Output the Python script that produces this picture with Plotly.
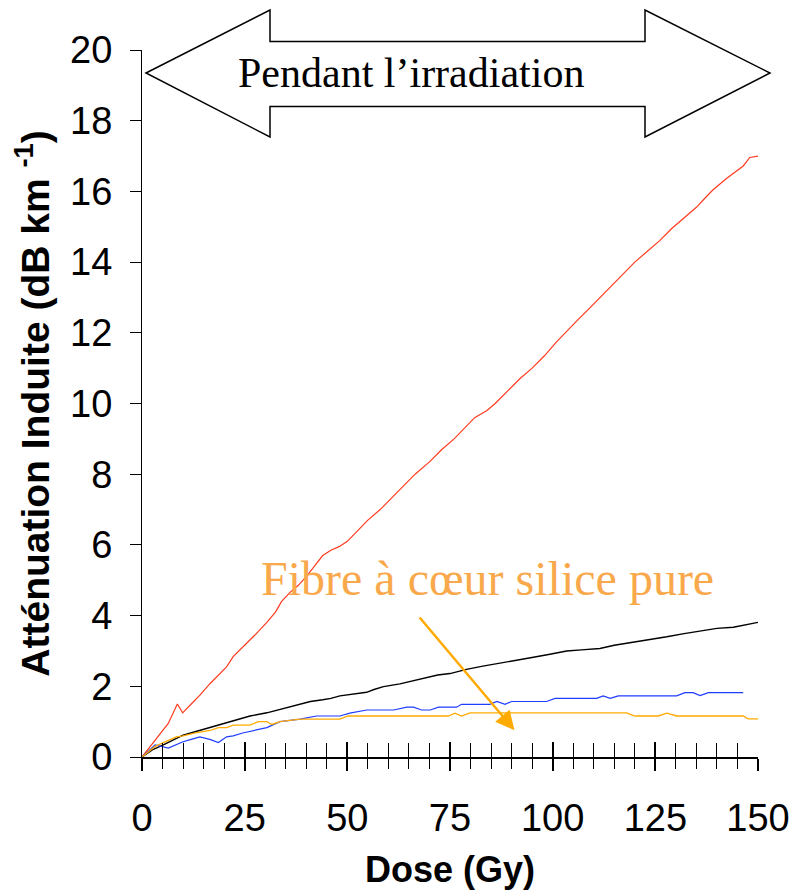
import plotly.graph_objects as go

# Induced attenuation (dB/km) versus dose (Gy) during irradiation, four fibres
red_dose = [0, 2, 4, 6.4, 8.6, 9.9, 12, 14.1, 16.6, 18.5, 20.6, 22.2, 25, 27.5, 30.4, 32.5,
            34, 36, 38, 40, 42, 44, 46, 48, 50, 52, 55, 58, 61, 64, 66.5, 70, 73, 76, 79,
            81, 84, 86, 89, 92, 95, 98, 101, 103, 106, 109, 112, 115, 118, 120, 123, 126,
            129, 132, 135, 137, 139, 142.4, 144.5, 146.4, 148, 150]
red_att = [0, 0.3, 0.6, 0.95, 1.5, 1.25, 1.5, 1.75, 2.08, 2.3, 2.55, 2.84, 3.15, 3.45, 3.81,
           4.1, 4.4, 4.65, 4.85, 5.1, 5.4, 5.7, 5.85, 5.95, 6.1, 6.35, 6.7, 7.0, 7.35, 7.7,
           8.0, 8.35, 8.7, 9.0, 9.35, 9.6, 9.8, 10.0, 10.35, 10.7, 11.0, 11.35, 11.75, 12.0,
           12.35, 12.7, 13.05, 13.4, 13.75, 14.0, 14.3, 14.6, 14.95, 15.25, 15.55, 15.8,
           16.04, 16.37, 16.55, 16.72, 16.96, 17.0]

black_dose = [0, 2.5, 5.2, 7.5, 10, 12.5, 14.9, 16.5, 18.6, 21, 23.5, 26.3, 30.4, 33, 36,
              38.5, 41, 44, 46, 48.2, 51, 54.7, 56.5, 58.8, 62.8, 66.9, 72, 75, 79, 83,
              87.2, 91, 95.3, 99, 103.4, 107, 111.5, 115, 119.6, 123.5, 127.8, 132, 135.9,
              140, 144, 147, 150]
black_att = [0, 0.2, 0.34, 0.48, 0.62, 0.7, 0.78, 0.84, 0.9, 0.98, 1.07, 1.16, 1.25, 1.33,
             1.41, 1.5, 1.57, 1.62, 1.66, 1.73, 1.78, 1.83, 1.91, 1.99, 2.07, 2.18, 2.32,
             2.36, 2.48, 2.57, 2.65, 2.74, 2.82, 2.9, 3.0, 3.03, 3.07, 3.16, 3.24, 3.32,
             3.4, 3.49, 3.57, 3.64, 3.67, 3.74, 3.81]

blue_dose = [0, 3.2, 6.4, 8, 10, 12, 14.1, 16.5, 18.6, 20.6, 22.2, 24.5, 27, 30.4, 33.6,
             38.5, 42.5, 48.2, 50.6, 54.7, 61.3, 64.5, 66.1, 68.1, 70.2, 72.2, 76.6, 77.8,
             84.7, 86.4, 88.4, 90, 98.5, 100.6, 110.7, 112.3, 114, 116, 130.2, 132.2,
             134.2, 135.9, 137.9, 146.4]
blue_att = [0, 0.34, 0.25, 0.33, 0.43, 0.5, 0.57, 0.5, 0.41, 0.57, 0.6, 0.68, 0.75, 0.83,
            1.0, 1.07, 1.16, 1.16, 1.24, 1.33, 1.33, 1.41, 1.41, 1.33, 1.33, 1.41, 1.41,
            1.49, 1.49, 1.57, 1.49, 1.57, 1.57, 1.66, 1.66, 1.73, 1.66, 1.73, 1.73, 1.82,
            1.82, 1.74, 1.82, 1.82]

orange_dose = [0, 3.2, 6, 8.4, 10, 13, 16.6, 18.6, 20.6, 22.2, 26.3, 28.3, 30.4, 31.6, 33.6,
               38.5, 48.2, 50.2, 74.6, 76.2, 77.8, 79.9, 118, 120, 125.7, 127.8, 130.2,
               146.4, 147.6, 150]
orange_att = [0, 0.3, 0.45, 0.57, 0.6, 0.68, 0.75, 0.83, 0.83, 0.9, 0.9, 1.0, 1.0, 0.92, 1.0,
              1.07, 1.07, 1.16, 1.16, 1.24, 1.16, 1.25, 1.25, 1.16, 1.16, 1.24, 1.16, 1.16,
              1.08, 1.08]

x_ticks = [0, 25, 50, 75, 100, 125, 150]
y_ticks = list(range(0, 21, 2))

# pointer from the pure-silica label down to its curve (data coordinates)
pointer_from = (67.3, 3.99)
pointer_to = (90.7, 0.76)

SANS = "Liberation Sans, Arial, sans-serif"
SERIF = "Liberation Serif, Times New Roman, serif"

W, H = 794, 895
ML, MR, MT, MB = 142, 36, 50, 138
PW, PH = W - ML - MR, H - MT - MB


def px(xp, yp):
    """Pixel position on the page -> paper coordinates."""
    return (xp - ML) / PW, (H - MB - yp) / PH


fig = go.Figure()

series = [
    (red_dose, red_att, "#FF3A1F", 1.2),
    (black_dose, black_att, "#000000", 1.4),
    (blue_dose, blue_att, "#1F3CFF", 1.2),
    (orange_dose, orange_att, "#FFAA00", 1.3),
]
for xs, ys, col, w in series:
    fig.add_trace(go.Scatter(x=xs, y=ys, mode="lines",
                             line=dict(color=col, width=w), showlegend=False,
                             hoverinfo="skip"))

# second x axis carrying the upward half of the crossing ticks
fig.add_trace(go.Scatter(x=[0, 150], y=[0, 0], xaxis="x2", mode="lines",
                         line=dict(width=0), showlegend=False, hoverinfo="skip"))

# double-headed arrow banner across the top
arrow_px = [(146, 73), (270, 10), (270, 41.5), (645, 41.5), (645, 10), (770, 73),
            (645, 137), (645, 106.5), (270, 106.5), (270, 137)]
pts = [px(a, b) for a, b in arrow_px]
path = "M " + " L ".join(f"{a:.5f},{b:.5f}" for a, b in pts) + " Z"
fig.add_shape(type="path", path=path, xref="paper", yref="paper",
              line=dict(color="black", width=1.5), fillcolor="white", layer="above")

tx, ty = px(411, 73)
fig.add_annotation(x=tx, y=ty, xref="paper", yref="paper", text="Pendant l\u2019irradiation",
                   xanchor="center", yanchor="middle",
                   showarrow=False, font=dict(family=SERIF, size=42, color="black"))

fx, fy = px(487, 578)
fig.add_annotation(x=fx, y=fy, xref="paper", yref="paper", text="Fibre à cœur silice pure",
                   xanchor="center", yanchor="middle",
                   showarrow=False, font=dict(family=SERIF, size=48, color="#F9A94B"))

fig.add_annotation(x=pointer_to[0], y=pointer_to[1], ax=pointer_from[0], ay=pointer_from[1],
                   xref="x", yref="y", axref="x", ayref="y", text="",
                   showarrow=True, arrowhead=2, arrowsize=1.5, arrowwidth=2.5,
                   arrowcolor="#FFAA00")

fig.update_layout(
    width=W, height=H,
    margin=dict(l=ML, r=MR, t=MT, b=MB),
    paper_bgcolor="white", plot_bgcolor="white",
    showlegend=False, hovermode=False,
    xaxis=dict(
        range=[0, 150], tickvals=x_ticks, ticktext=[str(v) for v in x_ticks],
        ticks="outside", ticklen=12, tickwidth=1.5, tickcolor="black",
        minor=dict(ticks="outside", dtick=5, tick0=0, ticklen=10, tickwidth=1,
                   tickcolor="black", showgrid=False),
        showline=True, linecolor="black", linewidth=1.5, showgrid=False, zeroline=False,
        tickfont=dict(family=SANS, size=38, color="black"), ticklabelstandoff=15,
        automargin=False,
        title=dict(text="Dose (Gy)", standoff=18,
                   font=dict(family=SANS, size=36, color="black", weight="bold")),
    ),
    xaxis2=dict(
        range=[0, 150], overlaying="x", anchor="y", side="bottom",
        tickvals=x_ticks, ticks="inside", ticklen=15, tickwidth=1.5, tickcolor="black",
        minor=dict(ticks="inside", dtick=5, tick0=0, ticklen=14, tickwidth=1,
                   tickcolor="black", showgrid=False),
        showticklabels=False, showline=False, showgrid=False, zeroline=False,
        automargin=False,
    ),
    yaxis=dict(
        range=[0, 20], tickvals=y_ticks, ticks="outside", ticklen=11, tickwidth=1,
        tickcolor="black", showline=True, linecolor="black", linewidth=1,
        showgrid=False, zeroline=False, automargin=False,
        tickfont=dict(family=SANS, size=38, color="black"), ticklabelstandoff=10,
        title=dict(text="Atténuation Induite (dB km <sup>-1</sup>)", standoff=8,
                   font=dict(family=SANS, size=39, color="black", weight="bold")),
    ),
)

fig.write_html("out.html")
